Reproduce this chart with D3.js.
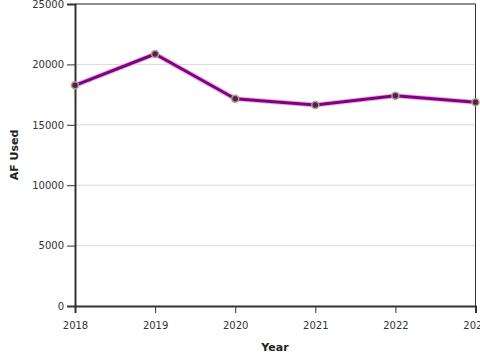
<!DOCTYPE html>
<html><head><meta charset="utf-8">
<script src="https://cdn.jsdelivr.net/npm/d3@7"></script>
<style>body{margin:0;background:#fff}svg{display:block;font-family:"DejaVu Sans",sans-serif}</style>
</head><body><svg id="c" width="480" height="360"></svg>
<script>
const years = [2018, 2019, 2020, 2021, 2022, 2023];
const afUsed = [18270, 20860, 17160, 16640, 17410, 16860];
const yTicks = [0, 5000, 10000, 15000, 20000, 25000];

const svg = d3.select("#c");
const m = {l:75, r:475.5, t:4, b:306};
const x = d3.scaleLinear().domain([2018, 2023]).range([m.l, m.r]);
const y = d3.scaleLinear().domain([0, 25000]).range([m.b, m.t]);

svg.append("g").selectAll("line").data(yTicks.slice(1)).join("line")
  .attr("x1", m.l).attr("x2", m.r).attr("y1", d=>y(d)).attr("y2", d=>y(d))
  .attr("stroke", "#d9d9d9").attr("stroke-width", 1);

svg.append("line").attr("x1", m.l).attr("x2", m.r).attr("y1", m.t).attr("y2", m.t).attr("stroke", "#333").attr("stroke-width", 1);
svg.append("line").attr("x1", m.r).attr("x2", m.r).attr("y1", m.t).attr("y2", m.b).attr("stroke", "#333").attr("stroke-width", 1);

const ya = svg.append("g").attr("transform", `translate(${m.l},0)`)
  .call(d3.axisLeft(y).tickValues(yTicks).tickFormat(d3.format("d")).tickSizeOuter(0).tickSize(8).tickPadding(3));
const xa = svg.append("g").attr("transform", `translate(0,${m.b})`)
  .call(d3.axisBottom(x).tickValues(years).tickFormat(d3.format("d")).tickSizeOuter(0).tickSize(7).tickPadding(9));
[ya, xa].forEach(a => {
  a.select(".domain").attr("stroke", "#333").attr("stroke-width", 2);
  a.selectAll(".tick line").attr("stroke", "#333");
  a.selectAll("text").attr("fill", "#333").style("font-size", "10px").style("font-family", "DejaVu Sans");
});

const line = d3.line().x((d,i)=>x(years[i])).y(d=>y(d));
svg.append("path").datum(afUsed).attr("d", line).attr("fill", "none")
  .attr("stroke", "#e6b3e6").attr("stroke-width", 5).attr("stroke-linejoin", "round");
svg.append("path").datum(afUsed).attr("d", line).attr("fill", "none")
  .attr("stroke", "#800080").attr("stroke-width", 3).attr("stroke-linejoin", "round");

svg.append("g").selectAll("circle").data(afUsed).join("circle")
  .attr("cx", (d,i)=>x(years[i])).attr("cy", d=>y(d)).attr("r", 3.5)
  .attr("fill", "#5a1f4f").attr("stroke", "#a5a58a").attr("stroke-width", 1.5);

svg.append("text").attr("x", 275).attr("y", 351).attr("text-anchor", "middle")
  .style("font-size", "11px").style("font-weight", "bold").attr("fill", "#222").text("Year");
svg.append("text").attr("transform", "translate(18,155) rotate(-90)").attr("text-anchor", "middle")
  .style("font-size", "11px").style("font-weight", "bold").attr("fill", "#222").text("AF Used");
</script></body></html>
